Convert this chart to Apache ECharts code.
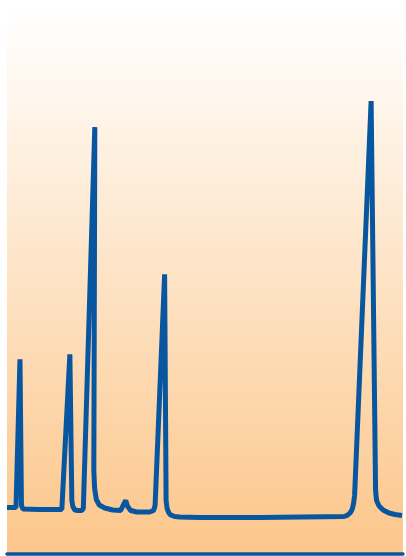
<!DOCTYPE html>
<html>
<head>
<meta charset="utf-8">
<script src="https://cdn.jsdelivr.net/npm/echarts@6/dist/echarts.min.js"></script>
<style>
  html, body { margin: 0; padding: 0; background: #ffffff; }
  #chart { width: 406px; height: 556px; }
</style>
</head>
<body>
<div id="chart"></div>
<script>
// Retention time (min) and detector signal of the chromatogram trace
const retentionTime = [
  0, 0.91, 1.31, 1.46, 1.61, 3.32, 5.54, 6.35, 6.55, 6.65, 6.85, 7.15, 7.56, 7.71,
  8.87, 8.77, 8.85, 9.02, 9.32, 9.87, 10.68, 11.48, 11.99, 12.19,
  12.49, 13.10, 14.41, 14.81, 14.96, 15.92, 16.07, 16.17, 16.32, 16.52,
  16.93, 17.43, 19.45, 25.49, 34.06, 34.36, 34.66, 34.86, 35.01, 35.11, 36.78,
  37.23, 37.33, 37.58, 37.99, 38.59, 39.19, 39.90
];
const signal = [
  8.47, 8.47, 35.73, 8.84, 8.20, 8.10, 8.10, 36.65, 9.76, 8.66, 8.01, 7.92, 7.92, 8.29,
  78.45, 15.29, 11.97, 9.94, 8.93, 8.38, 8.01, 7.92, 9.76, 8.66,
  7.92, 7.64, 7.64, 7.92, 8.84, 51.38, 9.76, 8.29, 7.55, 7.09,
  6.81, 6.72, 6.63, 6.63, 6.81, 7.00, 7.46, 8.10, 9.21, 10.68, 83.24,
  11.60, 9.76, 8.75, 8.01, 7.46, 7.18, 7.00
];

const points = retentionTime.map((t, i) => [t, signal[i]]);
const lineBlue = '#07569f';

const chart = echarts.init(document.getElementById('chart'), null, { renderer: 'canvas' });
chart.setOption({
  animation: false,
  grid: {
    left: 7, right: 3, top: 10, bottom: 2.5,
    show: true,
    borderWidth: 0,
    backgroundColor: new echarts.graphic.LinearGradient(0, 0, 0, 1, [
      { offset: 0, color: '#ffffff' },
      { offset: 1, color: '#fcc68a' }
    ])
  },
  xAxis: {
    type: 'value', min: 0, max: 40,
    axisLine: { show: true, onZero: false, lineStyle: { color: lineBlue, width: 3.5 } },
    axisTick: { show: false },
    axisLabel: { show: false },
    splitLine: { show: false }
  },
  yAxis: {
    type: 'value', min: 0, max: 100,
    axisLine: { show: false },
    axisTick: { show: false },
    axisLabel: { show: false },
    splitLine: { show: false }
  },
  series: [{
    type: 'line',
    data: points,
    showSymbol: false,
    smooth: false,
    clip: false,
    lineStyle: { color: lineBlue, width: 5, join: 'bevel' }
  }]
});
</script>
</body>
</html>
